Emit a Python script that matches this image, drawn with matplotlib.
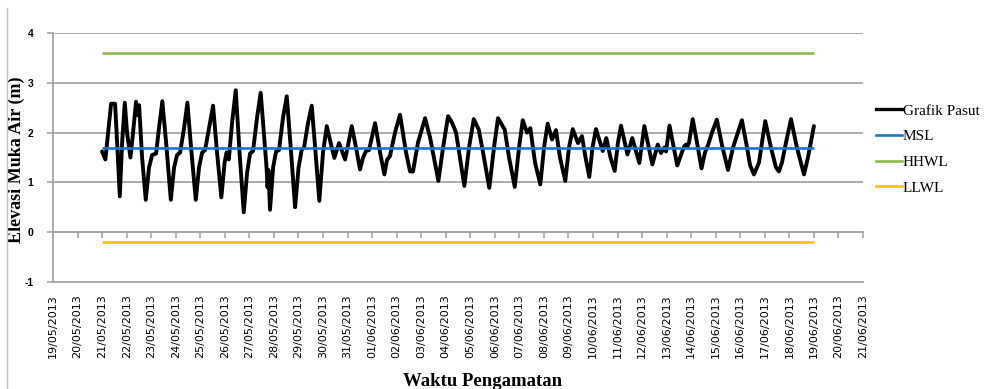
import matplotlib
matplotlib.use('Agg')
import matplotlib.pyplot as plt
from matplotlib.lines import Line2D

plt.rcParams['axes.unicode_minus'] = False

# ---- data ----
# hours after 21/05/2013 00:00
hours = [0, 3.2, 5.9, 8.8, 12.7, 15.2, 17.3, 19.6, 22.2, 24.4,
         27.7, 30.3, 33.2, 34.7, 36.2, 39.1, 42.7, 45.9, 48.9, 52.8,
         55.7, 58.9, 62.6, 67.2, 70.4, 73.3, 76.3, 80.2, 83.4, 87.0,
         91.6, 94.8, 97.8, 100.7, 104.6, 108.5, 112.4, 116.6, 119.8, 121.7,
         123.9, 127.1, 130.7, 134.4, 138.5, 141.8, 144.7, 147.6, 151.5, 155.1,
         158.9, 160.8, 161.8, 162.6, 164.2, 167.2, 170.1, 173.0, 176.9, 180.6,
         184.8, 188.7, 192.1, 195.2, 197.5, 201.4, 205.0, 208.7, 212.4, 216.0,
         219.7, 223.4, 227.1, 231.7, 237.6, 241.0, 244.1, 248.3, 252.2, 255.2,
         258.1, 261.0, 266.9, 271.8, 276.0, 278.6, 281.5, 286.4, 291.3, 297.2,
         301.1, 304.0, 308.9, 315.8, 320.7, 328.8, 333.4, 338.3, 342.2, 346.1,
         354.2, 358.8, 363.4, 368.3, 372.5, 378.6, 383.2, 387.1, 393.7, 397.9,
         403.5, 407.7, 411.3, 415.5, 418.7, 423.3, 428.5, 432.1, 435.7, 439.9,
         443.8, 447.7, 452.9, 456.5, 460.2, 465.3, 469.2, 472.7, 476.4, 479.5,
         482.9, 489.5, 493.0, 497.1, 501.2, 504.4, 507.4, 513.7, 518.4, 525.3,
         530.2, 538.0, 543.3, 546.5, 549.7, 551.4, 554.8, 562.4, 566.0, 569.0,
         570.9, 571.9, 573.9, 577.5, 581.7, 586.1, 589.5, 592.7, 596.3, 601.1,
         606.1, 612.0, 616.9, 625.6, 630.6, 633.5, 637.4, 640.3, 642.3, 648.4,
         654.0, 658.9, 661.8, 664.8, 668.7, 673.6, 679.4, 686.3, 690.2, 696.0]

elevation = [1.62, 1.46, 2.0, 2.58, 2.58, 1.6, 0.72, 1.8, 2.6, 2.0,
             1.5, 2.0, 2.62, 2.35, 2.55, 1.5, 0.65, 1.3, 1.55, 1.58,
             2.1, 2.63, 1.8, 0.65, 1.3, 1.55, 1.6, 2.1, 2.6, 1.7,
             0.65, 1.3, 1.6, 1.65, 2.1, 2.54, 1.6, 0.7, 1.4, 1.6,
             1.46, 2.2, 2.85, 1.6, 0.4, 1.2, 1.58, 1.63, 2.3, 2.8,
             1.8, 1.3, 0.9, 1.25, 0.45, 1.3, 1.62, 1.65, 2.3, 2.73,
             1.6, 0.5, 1.3, 1.66, 1.7, 2.2, 2.54, 1.6, 0.63, 1.6,
             2.13, 1.8, 1.49, 1.79, 1.46, 1.8, 2.13, 1.7, 1.26, 1.5,
             1.63, 1.65, 2.19, 1.6, 1.16, 1.45, 1.53, 2.0, 2.36, 1.6,
             1.22, 1.22, 1.8, 2.29, 1.9, 1.03, 1.7, 2.33, 2.2, 2.0,
             0.93, 1.7, 2.27, 2.06, 1.6, 0.89, 1.7, 2.29, 2.06, 1.5,
             0.91, 1.7, 2.25, 2.0, 2.09, 1.4, 0.96, 1.7, 2.18, 1.86,
             2.05, 1.5, 1.03, 1.7, 2.07, 1.79, 1.93, 1.5, 1.11, 1.7,
             2.07, 1.63, 1.89, 1.5, 1.23, 1.8, 2.14, 1.56, 1.89, 1.39,
             2.13, 1.36, 1.76, 1.59, 1.7, 1.62, 2.14, 1.34, 1.55, 1.72,
             1.76, 1.7, 1.8, 2.27, 1.8, 1.28, 1.6, 1.76, 2.0, 2.26,
             1.75, 1.25, 1.7, 2.25, 1.7, 1.35, 1.16, 1.3, 1.4, 2.23,
             1.7, 1.3, 1.22, 1.4, 1.8, 2.27, 1.7, 1.16, 1.5, 2.13]

msl_level = 1.70
hhwl_level = 3.60
llwl_level = -0.20

series_names = ['Grafik Pasut', 'MSL', 'HHWL', 'LLWL']

date_labels = ['19/05/2013', '20/05/2013', '21/05/2013', '22/05/2013', '23/05/2013',
               '24/05/2013', '25/05/2013', '26/05/2013', '27/05/2013', '28/05/2013',
               '29/05/2013', '30/05/2013', '31/05/2013', '01/06/2013', '02/06/2013',
               '03/06/2013', '04/06/2013', '05/06/2013', '06/06/2013', '07/06/2013',
               '08/06/2013', '09/06/2013', '10/06/2013', '11/06/2013', '12/06/2013',
               '13/06/2013', '14/06/2013', '15/06/2013', '16/06/2013', '17/06/2013',
               '18/06/2013', '19/06/2013', '20/06/2013', '21/06/2013']
y_ticks = [-1, 0, 1, 2, 3, 4]

# observation starts at 21/05 -> index 2 of the date axis (days)
start_day = date_labels.index('21/05/2013')
x_days = [start_day + h / 24.0 for h in hours]
x_span = [x_days[0], x_days[-1]]

# ---- figure ----
W, H = 988, 389
fig = plt.figure(figsize=(W / 100, H / 100), dpi=100)
ax = fig.add_axes([53 / W, (H - 282) / H, (863 - 53) / W, (282 - 33) / H])

grid_c = '#A6A6A6'
c_msl = '#1C75C8'
c_hhwl = '#8DBB4C'
c_llwl = '#FFC000'

ax.set_xlim(0, len(date_labels) - 1)
ax.set_ylim(-1, 4)
ax.set_yticks(y_ticks)
ax.yaxis.grid(True, color=grid_c, linewidth=1.3)
ax.set_axisbelow(True)

for s in ['top', 'right']:
    ax.spines[s].set_visible(False)
ax.spines['left'].set_color(grid_c)
ax.spines['left'].set_linewidth(1.3)
ax.spines['bottom'].set_position(('data', 0))
ax.spines['bottom'].set_color(grid_c)
ax.spines['bottom'].set_linewidth(1.3)

ax.set_xticks(range(len(date_labels)))
ax.tick_params(axis='x', direction='out', length=4, width=1.2, color=grid_c,
               labelbottom=False)
ax.tick_params(axis='y', direction='out', length=4, width=1.2, color=grid_c, pad=10)
for lab in ax.get_yticklabels():
    lab.set_fontsize(7.5)
    lab.set_fontweight('bold')
    lab.set_family('Liberation Sans')

sec = ax.secondary_xaxis(0)
sec.set_xticks(range(len(date_labels)))
sec.set_xticklabels(date_labels, rotation=90, fontsize=8, family='DejaVu Sans')
sec.tick_params(axis='x', length=0, pad=9)
sec.spines['bottom'].set_color(grid_c)
sec.spines['bottom'].set_linewidth(1.3)

# ---- series ----
ax.plot(x_span, [hhwl_level] * 2, color=c_hhwl, lw=1.9, solid_capstyle='butt')
ax.plot(x_span, [llwl_level] * 2, color=c_llwl, lw=1.9, solid_capstyle='butt')
ax.plot(x_days, elevation, color='black', lw=2.8, solid_joinstyle='round',
        solid_capstyle='round')
ax.plot(x_span, [msl_level] * 2, color=c_msl, lw=1.9, solid_capstyle='butt')

# ---- labels ----
ax.set_ylabel('Elevasi Muka Air (m)', family='Liberation Serif', fontweight='bold',
              fontsize=13)
ax.yaxis.set_label_coords((25 - 53) / 810, 0.49)
fig.text(483 / W, 1 - 381 / H, 'Waktu Pengamatan', family='Liberation Serif',
         fontweight='bold', fontsize=13.5, ha='center', va='center')

# ---- legend ----
handles = [Line2D([], [], color=c, lw=w) for c, w in
           [('black', 2.4), (c_msl, 1.9), (c_hhwl, 1.9), (c_llwl, 1.9)]]
fig.legend(handles, series_names, loc='upper left',
           bbox_to_anchor=(876 / W, 1 - 104 / H), frameon=False,
           prop={'family': 'Liberation Serif', 'size': 11},
           handlelength=1.7, handletextpad=0.05, labelspacing=0.78,
           borderpad=0, borderaxespad=0)

# left border of embedded chart picture
fig.add_artist(Line2D([7 / W, 7 / W], [0, 1 - 8 / H], transform=fig.transFigure,
                      color='#BFBFBF', lw=1.0))

fig.savefig('out.png', dpi=100)
